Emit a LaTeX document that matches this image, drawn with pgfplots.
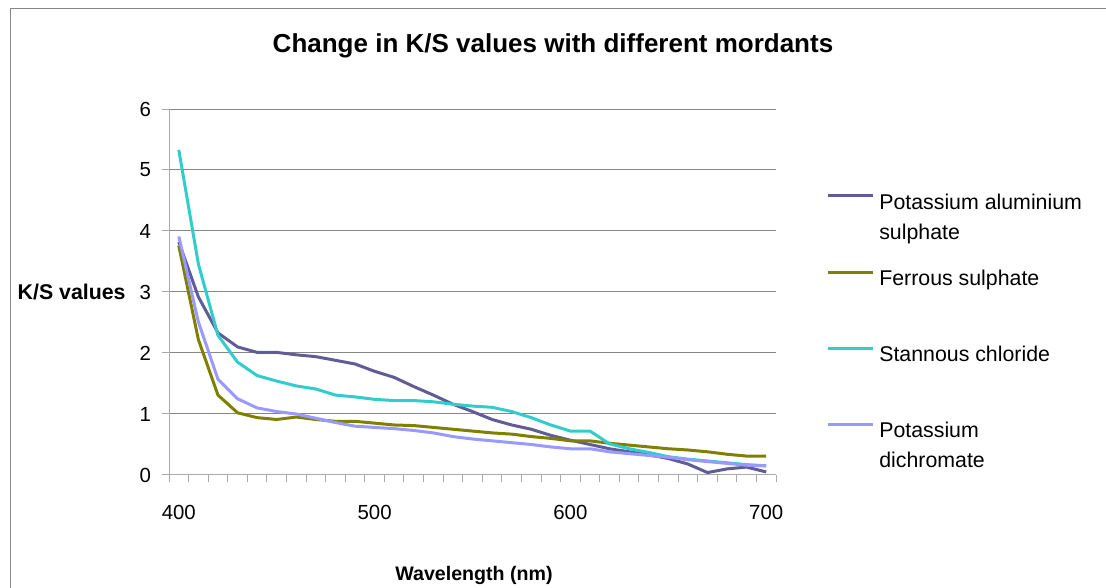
\documentclass[border=0pt]{standalone}
\usepackage{fontspec}
\setmainfont{Liberation Sans}
\usepackage{pgfplots}
\pgfplotsset{compat=1.18}

\definecolor{kal}{RGB}{96,92,150}
\definecolor{ferr}{RGB}{128,128,0}
\definecolor{stan}{RGB}{51,204,204}
\definecolor{dich}{RGB}{153,153,255}
\definecolor{gridc}{RGB}{134,134,134}
\definecolor{axisc}{RGB}{170,170,170}

% wavelength (nm) vs K/S
\pgfplotstableread{
wl   kal   ferr  stan  dich
400  3.82  3.76  5.33  3.91
410  2.92  2.22  3.46  2.51
420  2.33  1.31  2.29  1.57
430  2.10  1.02  1.85  1.25
440  2.01  0.94  1.63  1.10
450  2.01  0.91  1.54  1.04
460  1.97  0.95  1.46  1.00
470  1.94  0.91  1.41  0.93
480  1.88  0.88  1.31  0.86
490  1.82  0.88  1.28  0.80
500  1.70  0.85  1.24  0.78
510  1.60  0.82  1.22  0.76
520  1.45  0.81  1.22  0.73
530  1.31  0.78  1.20  0.69
540  1.16  0.75  1.16  0.63
550  1.04  0.72  1.13  0.59
560  0.91  0.69  1.11  0.56
570  0.82  0.67  1.04  0.53
580  0.75  0.63  0.94  0.50
590  0.65  0.60  0.82  0.46
600  0.57  0.56  0.72  0.43
610  0.50  0.56  0.72  0.43
620  0.43  0.52  0.51  0.38
630  0.38  0.49  0.43  0.35
640  0.33  0.46  0.37  0.32
650  0.27  0.43  0.30  0.29
660  0.18  0.41  0.26  0.25
670  0.04  0.38  0.23  0.22
680  0.10  0.34  0.20  0.19
690  0.13  0.31  0.17  0.16
700  0.05  0.31  0.15  0.15
}\data

% legend rows keep the default text depth, so a fixed row sep gives even spacing
\newcommand{\twolines}[2]{\parbox[t]{170pt}{#1\\#2}}

\begin{document}
\begin{tikzpicture}[x=0.75pt,y=0.75pt]
\useasboundingbox (0,0) rectangle (1106,588);
\draw[gridc, line width=0.75pt] (10,-20) -- (10,579) -- (1130,579);

\node[font=\fontsize{19.5}{23}\selectfont\bfseries] at (553,542) {Change in K/S values with different mordants};
\node[font=\fontsize{16}{18}\selectfont\bfseries, anchor=west] at (13,296) {K/S values};
\node[font=\fontsize{14.7}{17}\selectfont\bfseries] at (474,13) {Wavelength (nm)};

\begin{axis}[
    at={(126.75pt,84.75pt)}, anchor=south west,
    scale only axis,
    width=455.25pt, height=274.5pt,
    xmin=395, xmax=705,
    ymin=0, ymax=6,
    axis x line=bottom, axis y line=left,
    axis line style={-, axisc, line width=0.75pt},
    xtick={395,405,...,705},
    xticklabels={},
    extra x ticks={400,500,600,700},
    extra x tick style={major tick length=0pt, grid=none},
    ytick={0,1,...,6},
    tick align=outside,
    major tick length=5.5pt,
    tick style={axisc, line width=0.75pt},
    ymajorgrids,
    major grid style={gridc, line width=0.75pt},
    tick label style={font=\fontsize{15.3}{18}\selectfont},
    xticklabel style={yshift=-19.5pt},
    yticklabel style={xshift=-4.5pt},
    /pgf/number format/assume math mode=true,
    legend style={at={(1.0824,0.7760)}, anchor=north west, draw=none, fill=none,
        inner sep=0pt, row sep=40pt, column sep=1.5pt,
        font=\fontsize{16}{22.5}\selectfont},
    legend cell align=left,
    legend image code/.code={\draw[#1] (0pt,5pt) -- (34pt,5pt);},
    every axis plot/.append style={line width=2.25pt, line join=round},
]
\addplot[kal]  table[x=wl, y=kal]  {\data};
\addlegendentry{\twolines{Potassium aluminium}{sulphate}}
\addplot[ferr] table[x=wl, y=ferr] {\data};
\addlegendentry{Ferrous sulphate}
\addplot[stan] table[x=wl, y=stan] {\data};
\addlegendentry{Stannous chloride}
\addplot[dich] table[x=wl, y=dich] {\data};
\addlegendentry{\twolines{Potassium}{dichromate}}
\end{axis}
\end{tikzpicture}
\end{document}
